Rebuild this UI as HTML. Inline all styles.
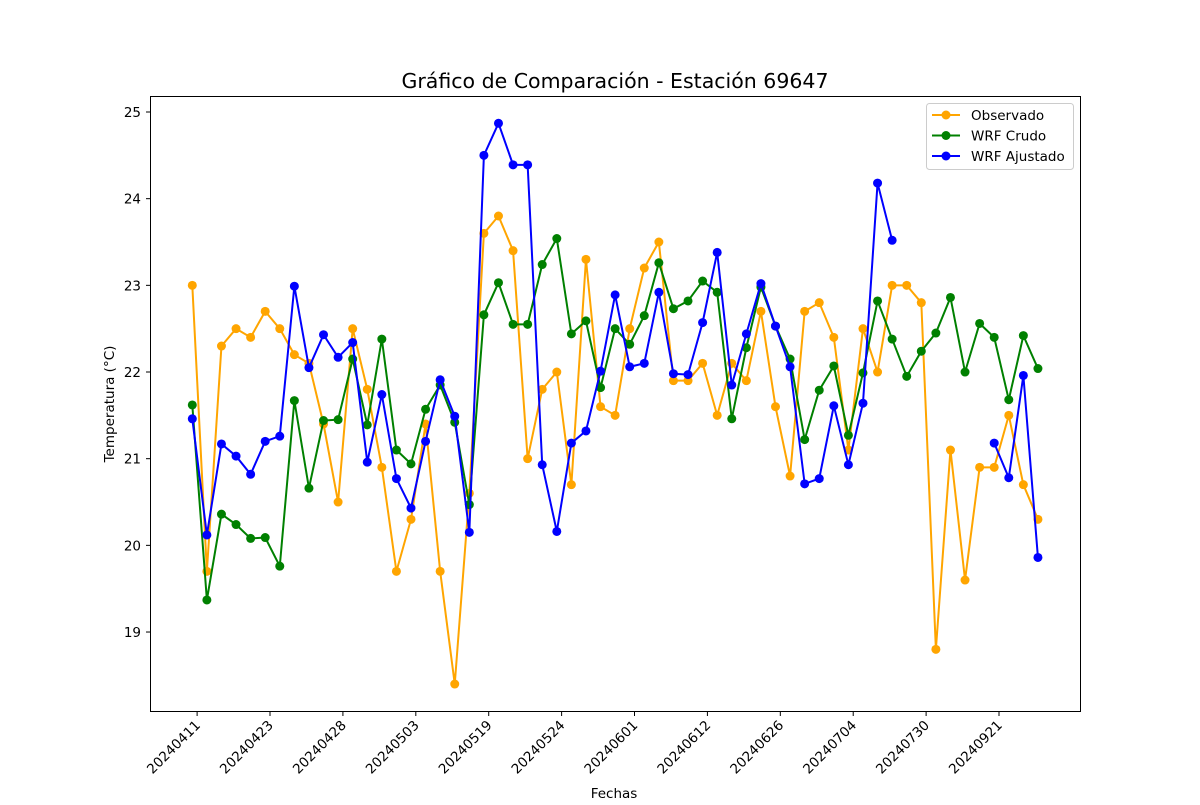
<!DOCTYPE html>
<html><head><meta charset="utf-8"><style>
body{margin:0;background:#fff}
svg text{font-family:"DejaVu Sans","Liberation Sans",sans-serif;fill:#000}
</style></head><body>
<svg width="1200" height="800" xmlns="http://www.w3.org/2000/svg">
<g id="plot"></g>
</svg>
<script>
const tickLabels=["20240411","20240423","20240428","20240503","20240519","20240524","20240601","20240612","20240626","20240704","20240730","20240921"];
const tickIndex=[0.33,5.33,10.33,15.33,20.33,25.33,30.33,35.33,40.33,45.33,50.33,55.33];
const yTicks=[19,20,21,22,23,24,25];
const observado=[23.0,19.7,22.3,22.5,22.4,22.7,22.5,22.2,22.1,21.4,20.5,22.5,21.8,20.9,19.7,20.3,21.4,19.7,18.4,20.6,23.6,23.8,23.4,21.0,21.8,22.0,20.7,23.3,21.6,21.5,22.5,23.2,23.5,21.9,21.9,22.1,21.5,22.1,21.9,22.7,21.6,20.8,22.7,22.8,22.4,21.1,22.5,22.0,23.0,23.0,22.8,18.8,21.1,19.6,20.9,20.9,21.5,20.7,20.3];
const wrfCrudo=[21.62,19.37,20.36,20.24,20.08,20.09,19.76,21.67,20.66,21.44,21.45,22.15,21.39,22.38,21.1,20.94,21.57,21.85,21.42,20.47,22.66,23.03,22.55,22.55,23.24,23.54,22.44,22.59,21.82,22.5,22.32,22.65,23.26,22.73,22.82,23.05,22.92,21.46,22.28,22.98,22.53,22.15,21.22,21.79,22.07,21.27,21.99,22.82,22.38,21.95,22.24,22.45,22.86,22.0,22.56,22.4,21.68,22.42,22.04];
const wrfAjustado=[21.46,20.12,21.17,21.03,20.82,21.2,21.26,22.99,22.05,22.43,22.17,22.34,20.96,21.74,20.77,20.43,21.2,21.91,21.49,20.15,24.5,24.87,24.39,24.39,20.93,20.16,21.18,21.32,22.01,22.89,22.06,22.1,22.92,21.98,21.97,22.57,23.38,21.85,22.44,23.02,22.53,22.06,20.71,20.77,21.61,20.93,21.64,24.18,23.52,null,null,null,null,null,null,21.18,20.78,21.96,19.86];
const NS="http://www.w3.org/2000/svg";
const g=document.getElementById('plot');
const X=i=>192.3+14.58*i;
const Y=v=>112+(25-v)*86.67;
function mk(t,a,txt){const e=document.createElementNS(NS,t);for(const k in a)e.setAttribute(k,a[k]);if(txt!==undefined)e.textContent=txt;g.appendChild(e);return e;}
let e;
e=mk('rect',{x:150.5,y:96.5,width:930,height:615,fill:'none',stroke:'#000','stroke-width':1});


yTicks.forEach(v=>{
 e=mk('line',{x1:146,x2:150,y1:Y(v),y2:Y(v),stroke:'#000'});
 
 
 e=mk('text',{x:141,y:Y(v)+5,'text-anchor':'end','font-size':13.5},String(v));
 
 
});
tickIndex.forEach((ti,k)=>{
 const x=X(ti);
 e=mk('line',{x1:x,x2:x,y1:712,y2:716,stroke:'#000'});
 
 
 e=mk('text',{x:x+4,y:726,'text-anchor':'end','font-size':13.5,transform:`rotate(-45 ${x+4} 726)`},tickLabels[k]);
 
 
});
function series(arr,color,name){
 let d='',pen=false;
 arr.forEach((v,i)=>{if(v==null){pen=false;return;}d+=(pen?'L':'M')+X(i)+' '+Y(v);pen=true;});
 e=mk('path',{d:d,fill:'none',stroke:color,'stroke-width':2});
 
 
 arr.forEach((v,i)=>{if(v==null)return;
  e=mk('circle',{cx:X(i),cy:Y(v),r:4.5,fill:color});
  
  
 });
}
series(observado,'orange','observado');
series(wrfCrudo,'green','wrf-crudo');
series(wrfAjustado,'blue','wrf-ajustado');
e=mk('text',{x:615,y:88,'text-anchor':'middle','font-size':20.5},'Gráfico de Comparación - Estación 69647');


e=mk('text',{x:614,y:798,'text-anchor':'middle','font-size':13.5},'Fechas');


e=mk('text',{x:114,y:404,'text-anchor':'middle','font-size':13.5,transform:'rotate(-90 114 404)'},'Temperatura (°C)');


e=mk('rect',{x:926.5,y:103.5,width:147,height:66,rx:3,fill:'#fff',stroke:'#ccc'});


[['Observado','orange'],['WRF Crudo','green'],['WRF Ajustado','blue']].forEach((p,k)=>{
 const y=115+k*20.5;
 e=mk('line',{x1:932,x2:960,y1:y,y2:y,stroke:p[1],'stroke-width':2});
 
 
 e=mk('circle',{cx:946,cy:y,r:4.5,fill:p[1]});
 
 
 e=mk('text',{x:971,y:y+5,'font-size':13.5},p[0]);
 
 
});
</script>
</body></html>
